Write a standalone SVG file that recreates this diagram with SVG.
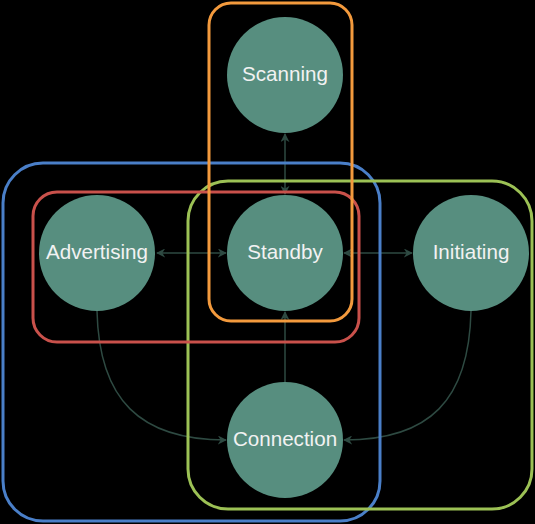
<svg xmlns="http://www.w3.org/2000/svg" width="535" height="524" viewBox="0 0 535 524">
<style>
.bg{fill:#000}
.node circle{fill:#578e7f}
.node text{fill:#f2f2f2;font-family:"Liberation Sans",Arial,sans-serif;font-size:20.6px;text-anchor:middle}
.grp{fill:none;stroke-width:3}
.edge{fill:none;stroke:#2e4a42;stroke-width:1.5}
</style>
<defs>
<marker id="ah" viewBox="0 0 10 10" refX="9" refY="5" markerWidth="9" markerHeight="9" markerUnits="userSpaceOnUse" orient="auto-start-reverse">
<path d="M0,0 L10,5 L0,10 L3,5 Z" fill="#2e4a42"/>
</marker>
</defs>
<rect class="bg" x="0" y="0" width="535" height="524"/>
<g id="nodes">
<g id="scanning" class="node"><circle cx="285" cy="75" r="58"/><text x="285" y="81">Scanning</text></g>
<g id="advertising" class="node"><circle cx="97" cy="253" r="58"/><text x="97" y="259">Advertising</text></g>
<g id="standby" class="node"><circle cx="285" cy="253" r="58"/><text x="285" y="259">Standby</text></g>
<g id="initiating" class="node"><circle cx="471" cy="253" r="58"/><text x="471" y="259">Initiating</text></g>
<g id="connection" class="node"><circle cx="285" cy="440" r="58"/><text x="285" y="446">Connection</text></g>
</g>
<g id="connectors">
<path class="edge" d="M285,134 L285,194" marker-start="url(#ah)" marker-end="url(#ah)"/>
<path class="edge" d="M157,253 L226,253" marker-start="url(#ah)" marker-end="url(#ah)"/>
<path class="edge" d="M344,253 L412,253" marker-start="url(#ah)" marker-end="url(#ah)"/>
<path class="edge" d="M285,382 L285,312" marker-end="url(#ah)"/>
<path class="edge" d="M97,311 C99,400 140,440 226,440" marker-end="url(#ah)"/>
<path class="edge" d="M471,311 C469,400 430,440 344,440" marker-end="url(#ah)"/>
</g>
<g id="groups">
<rect id="grp-blue" class="grp" x="3" y="163" width="377" height="358" rx="40" stroke="#4a7fc8"/>
<rect id="grp-green" class="grp" x="188" y="181" width="344" height="328" rx="40" stroke="#9cc155"/>
<rect id="grp-red" class="grp" x="33" y="192" width="326" height="150" rx="24" stroke="#c9514b"/>
<rect id="grp-orange" class="grp" x="209" y="3" width="143" height="318" rx="22" stroke="#f39a3d"/>
</g>
</svg>
